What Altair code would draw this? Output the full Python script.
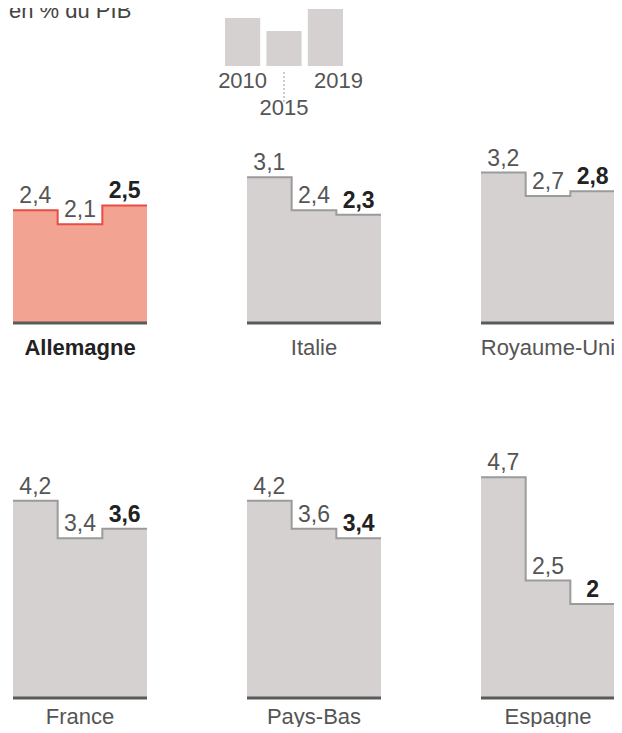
import altair as alt
import pandas as pd

# ---------------- data ----------------
TITLE = "en % du PIB"
YEARS = ["2010", "2015", "2019"]
LEGEND_VALUES = [4.8, 3.5, 5.7]          # illustrative bars of the key

COUNTRIES = ["Allemagne", "Italie", "Royaume-Uni", "France", "Pays-Bas", "Espagne"]
V2010 = [2.4, 3.1, 3.2, 4.2, 4.2, 4.7]
V2015 = [2.1, 2.4, 2.7, 3.4, 3.6, 2.5]
V2019 = [2.5, 2.3, 2.8, 3.6, 3.4, 2.0]
HIGHLIGHT = "Allemagne"

# ---------------- style ----------------
FONT = "Liberation Sans"
GREY_FILL = "#d5d1d0"
GREY_LINE = "#9b9b9b"
HL_FILL = "#f2a391"
HL_LINE = "#e84c45"
BASE = "#5a5a5a"
TXT = "#555555"
TXT_DARK = "#222222"
PANEL_W = 134
PX_PER_UNIT = 47


def fr(v):
    s = f"{v:.1f}"
    if s.endswith(".0"):
        s = s[:-2]
    return s.replace(".", ",")


def panel(i, ymax, name_dy):
    name = COUNTRIES[i]
    vals = [V2010[i], V2015[i], V2019[i]]
    hl = name == HIGHLIGHT
    fill = HL_FILL if hl else GREY_FILL
    stroke = HL_LINE if hl else GREY_LINE
    height = round(ymax * PX_PER_UNIT)

    steps = pd.DataFrame({"pos": [0, 1, 2, 3], "v": vals + [vals[-1]]})
    labels = pd.DataFrame({
        "pos": [0.5, 1.5, 2.5],
        "v": vals,
        "label": [fr(v) for v in vals],
        "last": [0, 0, 1],
    })
    one = pd.DataFrame({"name": [name], "pos": [1.5], "v": [0.0]})

    x = alt.X("pos:Q", scale=alt.Scale(domain=[0, 3], nice=False, zero=False), axis=None)
    y = alt.Y("v:Q", scale=alt.Scale(domain=[0, ymax], nice=False), axis=None)

    area = alt.Chart(steps).mark_area(interpolate="step-after", color=fill).encode(x=x, y=y)
    line = alt.Chart(steps).mark_line(interpolate="step-after", color=stroke,
                                      strokeWidth=2).encode(x=x, y=y)
    base = alt.Chart(one).mark_rule(color=BASE, strokeWidth=3).encode(y=y)

    reg = alt.Chart(labels).transform_filter("datum.last == 0").mark_text(
        font=FONT, fontSize=23, color=TXT, dy=-7, baseline="alphabetic", align="center"
    ).encode(x=x, y=y, text="label:N")
    bold = alt.Chart(labels).transform_filter("datum.last == 1").mark_text(
        font=FONT, fontSize=23, fontWeight="bold", color=TXT_DARK, dy=-7,
        baseline="alphabetic", align="center"
    ).encode(x=x, y=y, text="label:N")

    country = alt.Chart(one).mark_text(
        font=FONT, fontSize=22, fontWeight="bold" if hl else "normal",
        color=TXT_DARK if hl else TXT, dy=name_dy, baseline="alphabetic", align="center"
    ).encode(x=x, y=y, text="name:N")

    return alt.layer(area, line, base, reg, bold, country).properties(
        width=PANEL_W, height=height
    )


# ---------------- key ----------------
key_df = pd.DataFrame({"year": YEARS, "v": LEGEND_VALUES, "zero": [0.0, 0.0, 0.0]})
title_df = pd.DataFrame({"t": [TITLE]})

title_chart = alt.Chart(title_df).mark_text(
    font=FONT, fontSize=22, color="#444444", align="left", baseline="alphabetic"
).encode(x=alt.value(-4), y=alt.value(10), text="t:N").properties(width=212, height=58)

kx = alt.X("year:N", sort=YEARS, scale=alt.Scale(paddingInner=0.15, paddingOuter=0), axis=None)
ky = alt.Y("v:Q", scale=alt.Scale(domain=[0, 5.8], nice=False), axis=None)
kz = alt.Y("zero:Q", scale=alt.Scale(domain=[0, 5.8], nice=False), axis=None)

key_bars = alt.Chart(key_df).mark_bar(color=GREY_FILL).encode(x=kx, y=ky)
key_lab_side = alt.Chart(key_df).transform_filter("datum.year == '2010'").mark_text(
    font=FONT, fontSize=22, color=TXT, dy=22, baseline="alphabetic"
).encode(x=kx, y=kz, text="year:N")
key_lab_last = alt.Chart(key_df).transform_filter("datum.year == '2019'").mark_text(
    font=FONT, fontSize=22, color=TXT, dy=22, dx=13, baseline="alphabetic"
).encode(x=kx, y=kz, text="year:N")
key_lab_mid = alt.Chart(key_df).transform_filter("datum.year == '2015'").mark_text(
    font=FONT, fontSize=22, color=TXT, dy=49, baseline="alphabetic"
).encode(x=kx, y=kz, text="year:N")
key_tick = alt.Chart(key_df).transform_filter("datum.year == '2015'").mark_rule(
    color="#999999", strokeWidth=1, strokeDash=[2, 2]
).encode(x=kx, y=alt.value(64), y2=alt.value(94))

key_chart = alt.layer(key_bars, key_tick, key_lab_side, key_lab_last, key_lab_mid).properties(
    width=118, height=58
)

key_row = alt.hconcat(title_chart, key_chart, spacing=0, bounds="flush")

# nested flush concats have no size of their own, so the spacing below is
# the distance from the top of one row to the top of the next
row1 = alt.hconcat(*[panel(i, 3.7, 32) for i in range(0, 3)], spacing=100, bounds="flush")
row2 = alt.hconcat(*[panel(i, 5.3, 26) for i in range(3, 6)], spacing=100, bounds="flush")
rows = alt.vconcat(row1, row2, spacing=300, bounds="flush")

chart = alt.vconcat(key_row, rows, spacing=141, bounds="flush").properties(
    padding={"left": 0, "top": -9, "right": -6, "bottom": -2}
).configure_view(stroke="transparent")

chart.save("out.html", embed_options={"renderer": "svg", "actions": False})
